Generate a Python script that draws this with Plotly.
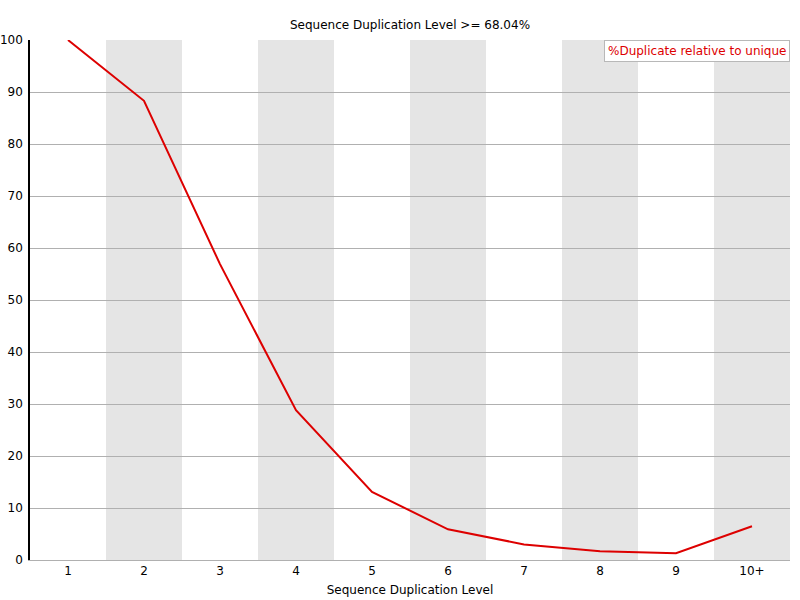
import plotly.graph_objects as go

# Sequence duplication levels (FastQC style)
categories = ["1", "2", "3", "4", "5", "6", "7", "8", "9", "10+"]
pct_dup = [100.0, 88.3, 56.9, 28.8, 13.1, 5.9, 3.0, 1.7, 1.3, 6.5]
title_text = "Sequence Duplication Level >= 68.04%"
series_name = "%Duplicate relative to unique"

FONT = "DejaVu Sans"

fig = go.Figure()

fig.add_trace(go.Scatter(
    x=list(range(len(categories))),
    y=pct_dup,
    mode="lines",
    line=dict(color="#dd0000", width=2),
    name=series_name,
    showlegend=False,
))

# alternating grey bands behind every second category
for i in range(len(categories)):
    if i % 2 == 1:
        fig.add_shape(
            type="rect", xref="x", yref="paper",
            x0=i - 0.5, x1=i + 0.5, y0=0, y1=1,
            fillcolor="#e5e5e5", line_width=0, layer="below",
        )

fig.add_annotation(
    text=series_name, xref="paper", yref="paper", x=1, y=1,
    xanchor="right", yanchor="top", showarrow=False,
    font=dict(family=FONT, size=12, color="#dd0000"),
    bgcolor="white", bordercolor="#b8b8b8", borderwidth=1, borderpad=3,
)

fig.update_layout(
    width=800, height=600,
    margin=dict(l=30, r=10, t=40, b=40),
    paper_bgcolor="white", plot_bgcolor="white",
    font=dict(family=FONT, size=12, color="black"),
    title=dict(text=title_text, x=0.5125, xanchor="center", y=0.958, yanchor="middle",
               font=dict(family=FONT, size=12), automargin=False),
)

fig.update_xaxes(
    tickmode="array", tickvals=list(range(len(categories))), ticktext=categories,
    range=[-0.5, len(categories) - 0.5], showgrid=False, zeroline=False,
    showline=True, linecolor="#b0b0b0", linewidth=1, ticks="",
    automargin=False,
    title=dict(text="Sequence Duplication Level", standoff=8, font=dict(size=12)),
)

fig.update_yaxes(
    range=[0, 100], tickmode="array", tickvals=list(range(0, 101, 10)),
    showgrid=True, gridcolor="#b0b0b0", gridwidth=1, zeroline=False,
    showline=True, linecolor="black", linewidth=1.5, ticks="",
    ticklabelstandoff=3, automargin=False,
)

# drop the default 8px body margin so the figure fills the window
fig.write_html("out.html", config={"displayModeBar": False},
               post_script="document.body.style.margin='0';")
